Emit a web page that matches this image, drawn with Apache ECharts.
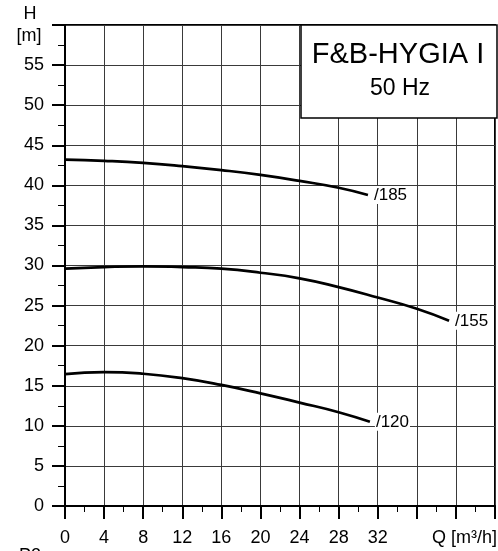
<!DOCTYPE html>
<html>
<head>
<meta charset="utf-8">
<script src="https://cdn.jsdelivr.net/npm/echarts@6/dist/echarts.min.js"></script>
<style>
html,body{margin:0;padding:0;background:#fff;}
#c{width:498px;height:551px;}
</style>
</head>
<body>
<div id="c"></div>
<script>
// Data
var xTicksShown = [0, 4, 8, 12, 16, 20, 24, 28, 32];
var q185 = [0, 4, 8, 12, 16, 20, 24, 28, 31];
var h185 = [43.2, 43.05, 42.8, 42.4, 41.9, 41.3, 40.55, 39.7, 38.8];
var q155 = [0, 4, 8, 12, 16, 20, 24, 28, 32, 36, 39.3];
var h155 = [29.6, 29.8, 29.9, 29.8, 29.6, 29.1, 28.4, 27.3, 26.0, 24.6, 23.1];
var q120 = [0, 4, 8, 12, 16, 20, 24, 28, 31.2];
var h120 = [16.45, 16.7, 16.5, 15.95, 15.1, 14.05, 12.9, 11.7, 10.5];
var curveNames = ['/185', '/155', '/120'];

function pairs(q, h) { return q.map(function (v, i) { return [v, h[i]]; }); }

var FONT = '"Liberation Sans", Arial, sans-serif';
var chart = echarts.init(document.getElementById('c'), null, { renderer: 'canvas' });

function curve(name, q, h) {
  return {
    type: 'line', name: name, data: pairs(q, h), smooth: 0.5, symbol: 'none',
    lineStyle: { color: '#000', width: 2.7 },
    z: 3,
    endLabel: {
      show: true, formatter: name, color: '#000', fontFamily: FONT, fontSize: 17,
      backgroundColor: '#fff', padding: [1, 1, 0, 1], distance: 5
    }
  };
}

chart.setOption({
  animation: false,
  backgroundColor: '#fff',
  grid: { left: 65, right: 1, top: 25, bottom: 45, show: true, borderColor: '#000', borderWidth: 2, backgroundColor: 'transparent' },
  xAxis: {
    type: 'value', min: 0, max: 44, interval: 4,
    axisLine: { show: true, onZero: false, lineStyle: { color: '#000', width: 2 } },
    axisTick: { show: true, inside: false, length: 13, lineStyle: { color: '#000', width: 2 } },
    minorTick: { show: true, splitNumber: 2, length: 6, lineStyle: { color: '#000', width: 1 } },
    splitLine: { show: true, lineStyle: { color: '#3a3a3a', width: 1 } },
    axisLabel: {
      margin: 23, color: '#000', fontFamily: FONT, fontSize: 18,
      formatter: function (v) { return xTicksShown.indexOf(v) >= 0 ? String(v) : ''; }
    }
  },
  yAxis: {
    type: 'value', min: 0, max: 60, interval: 5,
    axisLine: { show: true, onZero: false, lineStyle: { color: '#000', width: 2 } },
    axisTick: { show: true, inside: false, length: 13, lineStyle: { color: '#000', width: 2 } },
    minorTick: { show: true, splitNumber: 2, length: 7, lineStyle: { color: '#000', width: 1 } },
    splitLine: { show: true, lineStyle: { color: '#3a3a3a', width: 1 } },
    axisLabel: {
      margin: 21, color: '#000', fontFamily: FONT, fontSize: 18,
      formatter: function (v) { return v >= 60 ? '' : String(v); }
    }
  },
  graphic: [
    { type: 'rect', shape: { x: 301, y: 25, width: 196, height: 93 }, style: { fill: '#fff', stroke: '#000', lineWidth: 1.5 }, z: 10 },
    { type: 'text', x: 398, y: 55, z: 11, style: { text: 'F&B-HYGIA I', fontFamily: FONT, fontSize: 29, fill: '#000', textAlign: 'center', textVerticalAlign: 'middle' } },
    { type: 'text', x: 400, y: 89, z: 11, style: { text: '50 Hz', fontFamily: FONT, fontSize: 23, fill: '#000', textAlign: 'center', textVerticalAlign: 'middle' } },
    { type: 'text', x: 30, y: 14, style: { text: 'H', fontFamily: FONT, fontSize: 18, fill: '#000', textAlign: 'center', textVerticalAlign: 'middle' } },
    { type: 'text', x: 29, y: 36, style: { text: '[m]', fontFamily: FONT, fontSize: 18, fill: '#000', textAlign: 'center', textVerticalAlign: 'middle' } },
    { type: 'text', x: 497, y: 538, style: { text: 'Q [m³/h]', fontFamily: FONT, fontSize: 18, fill: '#000', textAlign: 'right', textVerticalAlign: 'middle' } },
    { type: 'text', x: 19, y: 547, style: { text: 'P2', fontFamily: FONT, fontSize: 18, fill: '#000', textAlign: 'left', textVerticalAlign: 'top' } }
  ],
  series: [
    curve(curveNames[0], q185, h185),
    curve(curveNames[1], q155, h155),
    curve(curveNames[2], q120, h120)
  ]
});
</script>
</body>
</html>
